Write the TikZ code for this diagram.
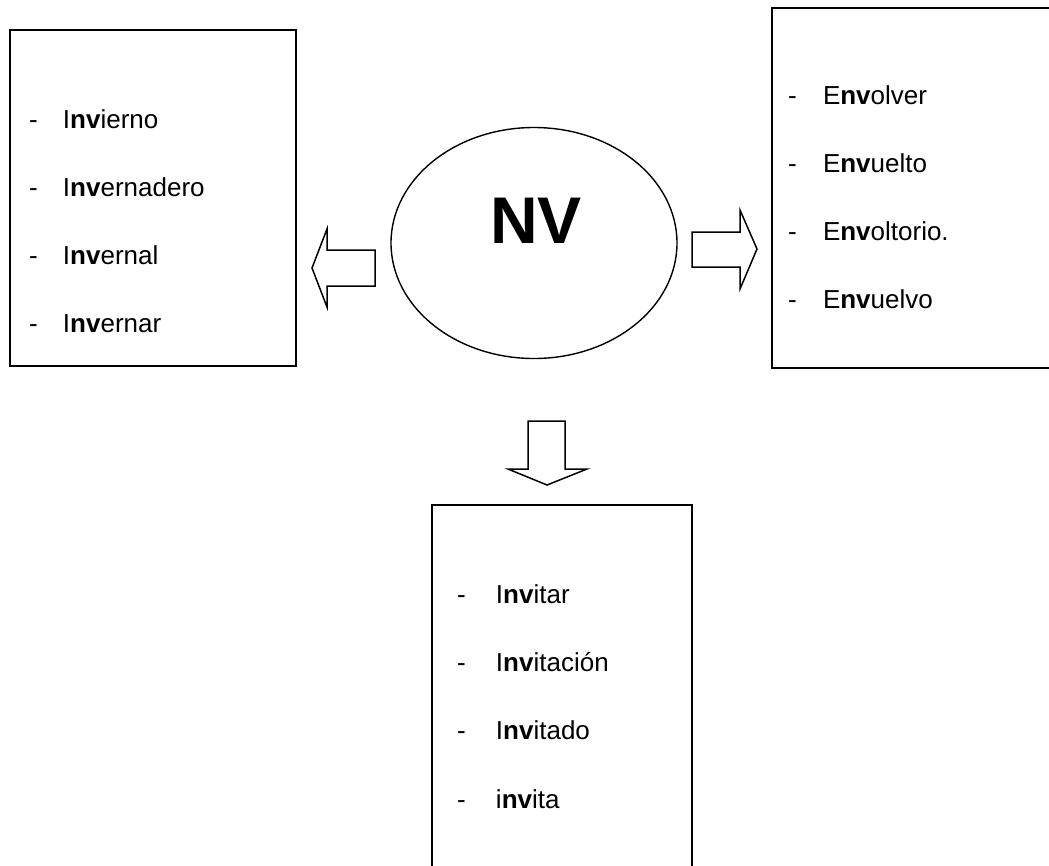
\documentclass[tikz,border=0pt]{standalone}
\usepackage{fontspec}
\setmainfont{Liberation Sans}
\usetikzlibrary{shapes.geometric, positioning, calc}

% dash, gap, then the word with its bold "nv"
\newcommand{\wordentry}[3]{\makebox[#1][l]{-}#2\textbf{nv}#3}

\begin{document}
\begin{tikzpicture}[
    x=1pt, y=-1pt,
    line width=1.5pt,
    every node/.style={font=\fontsize{26}{30}\selectfont, inner sep=0pt, outer sep=0pt},
    wordbox/.style={draw, line width=1.6pt},
    hub/.style={draw, ellipse, line width=1.4pt, minimum width=286pt, minimum height=231pt},
    blockarrow/.style={draw, line width=1.5pt, line join=miter},
    wordline/.style={anchor=base west}
]

% Page size
\useasboundingbox (0,0) rectangle (1049,865);

% Central ellipse
\node[hub] (hub) at (534,243) {};
\node[font=\fontsize{66}{70}\selectfont\bfseries] (nvlabel) at (536,221) {NV};

% Boxes
\node[wordbox, minimum width=286pt, minimum height=336pt] (leftbox) at (153,198) {};
\node[wordbox, minimum width=300pt, minimum height=360pt] (rightbox) at (922,188) {};
\node[wordbox, minimum width=260pt, minimum height=380pt] (bottombox) at (562,695) {};

% Block arrows
\draw[blockarrow] (375,250) -- (327,250) -- (327,229) -- (312,268) -- (327,307) -- (327,286) -- (375,286) -- cycle;
\draw[blockarrow] (692,232) -- (740,232) -- (740,210) -- (757,249) -- (740,289) -- (740,267) -- (692,267) -- cycle;
\draw[blockarrow] (528,421) -- (565,421) -- (565,469) -- (587,469) -- (547,485) -- (508,469) -- (528,469) -- cycle;

% Left box words
\node[wordline] (l1) at (29,128) {\wordentry{34pt}{I}{ierno}};
\node[wordline] (l2) at (29,196) {\wordentry{34pt}{I}{ernadero}};
\node[wordline] (l3) at (29,264) {\wordentry{34pt}{I}{ernal}};
\node[wordline] (l4) at (29,332) {\wordentry{34pt}{I}{ernar}};

% Right box words
\node[wordline] (r1) at (788,104) {\wordentry{35pt}{E}{olver}};
\node[wordline] (r2) at (788,172) {\wordentry{35pt}{E}{uelto}};
\node[wordline] (r3) at (788,240) {\wordentry{35pt}{E}{oltorio.}};
\node[wordline] (r4) at (788,308) {\wordentry{35pt}{E}{uelvo}};

% Bottom box words
\node[wordline] (b1) at (457,603) {\wordentry{39pt}{I}{itar}};
\node[wordline] (b2) at (457,671) {\wordentry{39pt}{I}{itación}};
\node[wordline] (b3) at (457,739) {\wordentry{39pt}{I}{itado}};
\node[wordline] (b4) at (457,808) {\wordentry{39pt}{i}{ita}};

\end{tikzpicture}
\end{document}
